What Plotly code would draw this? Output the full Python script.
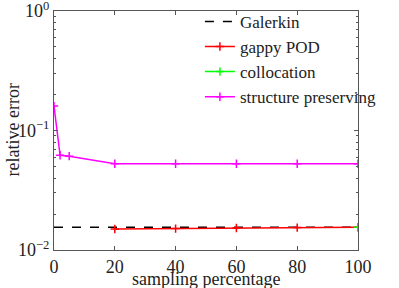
import plotly.graph_objects as go

galerkin_x = [0, 100]
galerkin_y = [0.0155, 0.0155]
gappy_x = [20, 40, 60, 80, 100]
gappy_y = [0.0150, 0.0151, 0.0153, 0.0154, 0.0155]
colloc_x = [100]
colloc_y = [0.0155]
struct_x = [0, 2, 5, 20, 40, 60, 80, 100]
struct_y = [0.160, 0.062, 0.061, 0.0527, 0.0527, 0.0527, 0.0527, 0.0527]

y_tickvals = [0.01, 0.1, 1]
y_ticktext = ["10<sup>−2</sup>", "10<sup>−1</sup>", "10<sup>0</sup>"]
x_tickvals = [0, 20, 40, 60, 80, 100]

FONT = "Liberation Serif"
TXT = "#222222"
fig = go.Figure()
fig.add_trace(go.Scatter(x=galerkin_x, y=galerkin_y, mode="lines", name="Galerkin",
                         line=dict(color="black", dash="dash", width=1.5)))

def mk(c):
    return dict(symbol="cross-thin", size=6, color=c, line=dict(width=1.5, color=c))

fig.add_trace(go.Scatter(x=gappy_x, y=gappy_y, mode="lines+markers", name="gappy POD",
                         line=dict(color="#ff0000", width=1.5), marker=mk("#ff0000")))
fig.add_trace(go.Scatter(x=colloc_x, y=colloc_y, mode="lines+markers", name="collocation",
                         line=dict(color="#00ff00", width=1.5), marker=mk("#00ff00")))
fig.add_trace(go.Scatter(x=struct_x, y=struct_y, mode="lines+markers", name="structure preserving",
                         line=dict(color="#ff00ff", width=1.5), marker=mk("#ff00ff")))

axcol = "#555555"
fig.update_layout(
    width=399, height=288,
    margin=dict(l=54, r=41, t=11, b=38, autoexpand=False),
    paper_bgcolor="white", plot_bgcolor="white",
    font=dict(family=FONT, size=18, color=TXT),
    showlegend=True,
    legend=dict(x=0.48, y=1.03, xanchor="left", yanchor="top", bgcolor="rgba(0,0,0,0)",
                font=dict(family=FONT, size=17, color=TXT), itemwidth=30,
                traceorder="normal"),
    xaxis=dict(range=[0, 100], tickvals=x_tickvals, showgrid=False, automargin=False,
               zeroline=False, showline=True, mirror="ticks", linecolor=axcol, linewidth=1,
               ticks="inside", ticklen=4, tickcolor=axcol, ticklabeloverflow="allow",
               tickfont=dict(family=FONT, size=18)),
    yaxis=dict(type="log", range=[-2, 0], showgrid=False, zeroline=False, automargin=False,
               showline=True, mirror="ticks", linecolor=axcol, linewidth=1,
               tickvals=y_tickvals, ticktext=y_ticktext, ticklabeloverflow="allow",
               ticks="inside", ticklen=4, tickcolor=axcol,
               tickfont=dict(family=FONT, size=18),
               minor=dict(ticks="inside", ticklen=2, tickcolor=axcol,
                          tickvals=[0.02, 0.03, 0.04, 0.05, 0.06, 0.07, 0.08, 0.09,
                                    0.2, 0.3, 0.4, 0.5, 0.6, 0.7, 0.8, 0.9])),
    annotations=[
        dict(text="sampling percentage", xref="paper", yref="paper", x=0.5, y=-0.12,
             xanchor="center", yanchor="middle", showarrow=False,
             font=dict(family=FONT, size=18, color=TXT)),
        dict(text="relative error", xref="paper", yref="paper", x=-0.138, y=0.5,
             xanchor="center", yanchor="middle", textangle=-90, showarrow=False,
             font=dict(family=FONT, size=18, color=TXT)),
    ],
)
fig.write_html("out.html", config={"displayModeBar": False},
               post_script="document.body.style.margin='0';")
